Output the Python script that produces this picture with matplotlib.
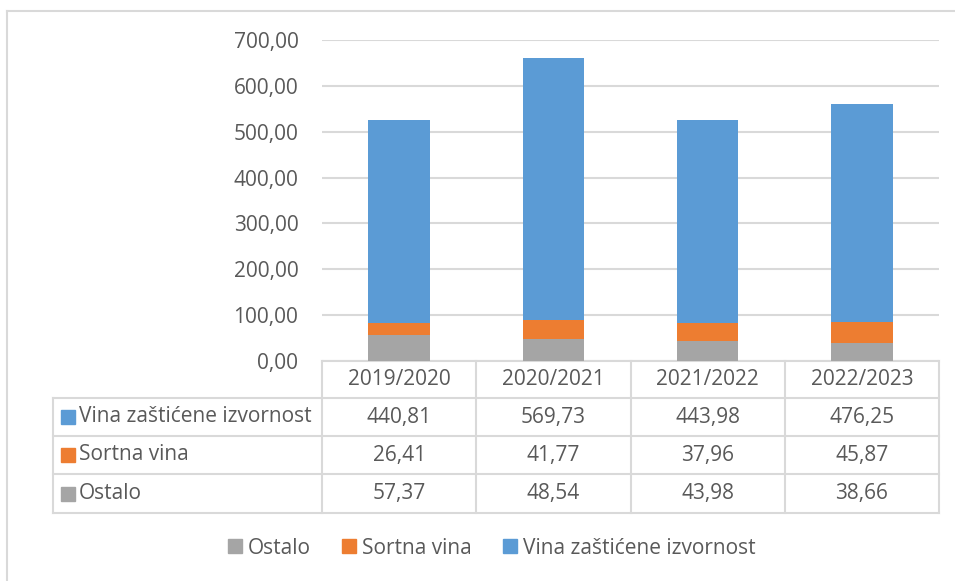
import numpy as np
import matplotlib.pyplot as plt
from matplotlib.lines import Line2D
from matplotlib.patches import Rectangle
from matplotlib.transforms import blended_transform_factory

plt.rcParams['font.family'] = ['Open Sans', 'DejaVu Sans']

seasons = ['2019/2020', '2020/2021', '2021/2022', '2022/2023']
zasticene = [440.81, 569.73, 443.98, 476.25]
sortna = [26.41, 41.77, 37.96, 45.87]
ostalo = [57.37, 48.54, 43.98, 38.66]

series_names = ['Vina zaštićene izvornost', 'Sortna vina', 'Ostalo']
yticks = [0, 100, 200, 300, 400, 500, 600, 700]

c_blue = '#5b9bd5'
c_orange = '#ed7d31'
c_gray = '#a5a5a5'
text_c = '#595959'
line_c = '#d9d9d9'
fs = 15

W, H = 955, 581
fig = plt.figure(figsize=(W / 100, H / 100), dpi=100)

# axes box in pixels: left 322, right 939, top 40, bottom 361
ax = fig.add_axes([322 / W, (H - 361) / H, 617 / W, 321 / H])

x = np.arange(len(seasons))
bw = 0.4
ax.bar(x, ostalo, bw, color=c_gray, zorder=3)
ax.bar(x, sortna, bw, bottom=ostalo, color=c_orange, zorder=3)
ax.bar(x, zasticene, bw, bottom=np.add(ostalo, sortna), color=c_blue, zorder=3)

ax.set_xlim(-0.5, len(seasons) - 0.5)
ax.set_ylim(0, 700)
ax.set_yticks(yticks)
ax.set_yticklabels([f'{v:.2f}'.replace('.', ',') for v in yticks])
ax.set_xticks([])
ax.grid(axis='y', color=line_c, lw=1.5, zorder=0)
ax.tick_params(axis='y', length=0, pad=17, labelsize=fs, labelcolor=text_c)
for s in ax.spines.values():
    s.set_visible(False)

# data table under the plot
tr = blended_transform_factory(ax.transData, ax.transAxes)
row_y = [(361 - p) / 321 for p in (361, 398, 436, 474, 513)]
x_left = -0.5 + (53 - 322) / 617 * len(seasons)
x_edges = np.arange(len(seasons) + 1) - 0.5

lk = dict(color=line_c, lw=1.5, transform=tr, clip_on=False)
ax.plot([x_edges[0], x_edges[-1]], [row_y[0]] * 2, **lk)
for yy in row_y[1:]:
    ax.plot([x_left, x_edges[-1]], [yy] * 2, **lk)
for xe in x_edges:
    ax.plot([xe, xe], [row_y[0], row_y[-1]], **lk)
ax.plot([x_left, x_left], [row_y[1], row_y[-1]], **lk)

def mid(i):
    return (row_y[i] + row_y[i + 1]) / 2

for j, s in enumerate(seasons):
    ax.text(j, mid(0), s, ha='center', va='center', fontsize=fs, color=text_c, transform=tr)

rows = [(series_names[0], zasticene, c_blue),
        (series_names[1], sortna, c_orange),
        (series_names[2], ostalo, c_gray)]
key_w = (14 / 617) * len(seasons)
key_h = 14 / 321
for i, (name, vals, col) in enumerate(rows, start=1):
    ym = mid(i)
    ax.add_patch(Rectangle((x_left + (8 / 617) * len(seasons), ym - key_h / 2), key_w, key_h,
                           color=col, transform=tr, clip_on=False))
    ax.text(x_left + (26 / 617) * len(seasons), ym, name, ha='left', va='center',
            fontsize=fs, color=text_c, transform=tr)
    for j, v in enumerate(vals):
        ax.text(j, ym, f'{v:.2f}'.replace('.', ','), ha='center', va='center',
                fontsize=fs, color=text_c, transform=tr)

# legend
handles = [Rectangle((0, 0), 1, 1, color=c_gray),
           Rectangle((0, 0), 1, 1, color=c_orange),
           Rectangle((0, 0), 1, 1, color=c_blue)]
fig.legend(handles, [series_names[2], series_names[1], series_names[0]],
           loc='center', bbox_to_anchor=(492 / W, (H - 548) / H), ncol=3,
           frameon=False, fontsize=fs, labelcolor=text_c,
           handlelength=0.65, handleheight=0.65, handletextpad=0.3,
           columnspacing=1.5)

# chart border (left and top edges visible)
fig.add_artist(Line2D([7 / W, 7 / W], [0, (H - 11) / H], color=line_c, lw=1.5))
fig.add_artist(Line2D([7 / W, 1], [(H - 11) / H] * 2, color=line_c, lw=1.5))

fig.savefig('out.png', dpi=100)
